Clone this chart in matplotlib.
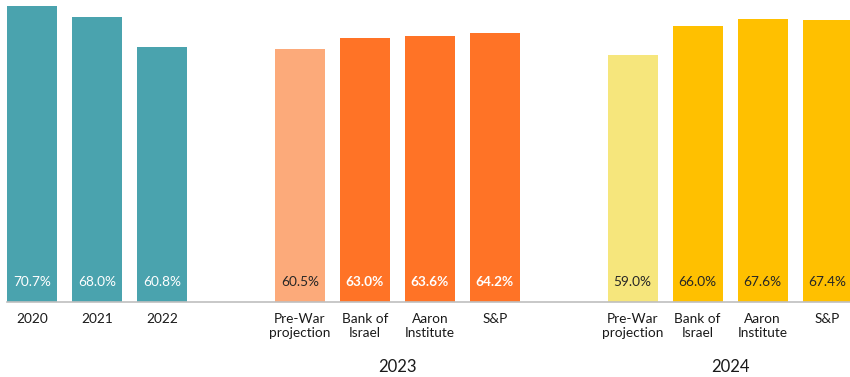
import numpy as np
import matplotlib.pyplot as plt

plt.rcParams['font.family'] = ['Lato', 'DejaVu Sans']

# data
labels = ["2020", "2021", "2022",
          "Pre-War\nprojection", "Bank of\nIsrael", "Aaron\nInstitute", "S&P",
          "Pre-War\nprojection", "Bank of\nIsrael", "Aaron\nInstitute", "S&P"]
values = [70.7, 68.0, 60.8, 60.5, 63.0, 63.6, 64.2, 59.0, 66.0, 67.6, 67.4]
groups = [0, 0, 0, 1, 1, 1, 1, 2, 2, 2, 2]
group_titles = {1: "2023", 2: "2024"}

TEAL = "#4aa3ae"
colors = [TEAL, TEAL, TEAL,
          "#fcaa7a", "#ff7326", "#ff7326", "#ff7326",
          "#f6e67c", "#ffc000", "#ffc000", "#ffc000"]
text_colors = ["white", "white", "white",
               "#262626", "white", "white", "white",
               "#262626", "#262626", "#262626", "#262626"]
text_bold = [False, False, False, False, True, True, True,
             False, False, False, False]

GROUP_GAP = 1.12  # extra space between groups (in bar slots)

# x positions: one slot per bar, plus a gap between groups
x = np.arange(len(values), dtype=float) + np.array(groups) * GROUP_GAP

fig = plt.figure(figsize=(8.5, 3.77), dpi=100)
ax = fig.add_axes([7 / 850, 75.5 / 377, 843 / 850, 301 / 377])

ax.bar(x, values, width=0.77, color=colors, zorder=2)

for xi, v, tc, b in zip(x, values, text_colors, text_bold):
    ax.text(xi, 4.6, f"{v:.1f}%", ha="center", va="center", fontsize=9.8,
            color=tc, fontweight="bold" if b else "normal", zorder=3)

for g, title in group_titles.items():
    xs = x[np.array(groups) == g]
    ax.text(xs.mean(), -0.2176, title, transform=ax.get_xaxis_transform(),
            ha="center", va="center", fontsize=12, color="#1a1a1a")

ax.set_xlim(x[0] - 0.385, x[0] + (850 - 32) / 65)
ax.set_ylim(0, 72)
ax.set_xticks(x)
ax.set_xticklabels(labels, fontsize=9.8, color="#1a1a1a", linespacing=1.2)
ax.tick_params(axis="x", length=0, pad=8)
ax.set_yticks([])
for s in ["top", "right", "left"]:
    ax.spines[s].set_visible(False)
ax.spines["bottom"].set_color("#bfbfbf")
ax.spines["bottom"].set_linewidth(1.2)

fig.savefig("out.png", dpi=100)
